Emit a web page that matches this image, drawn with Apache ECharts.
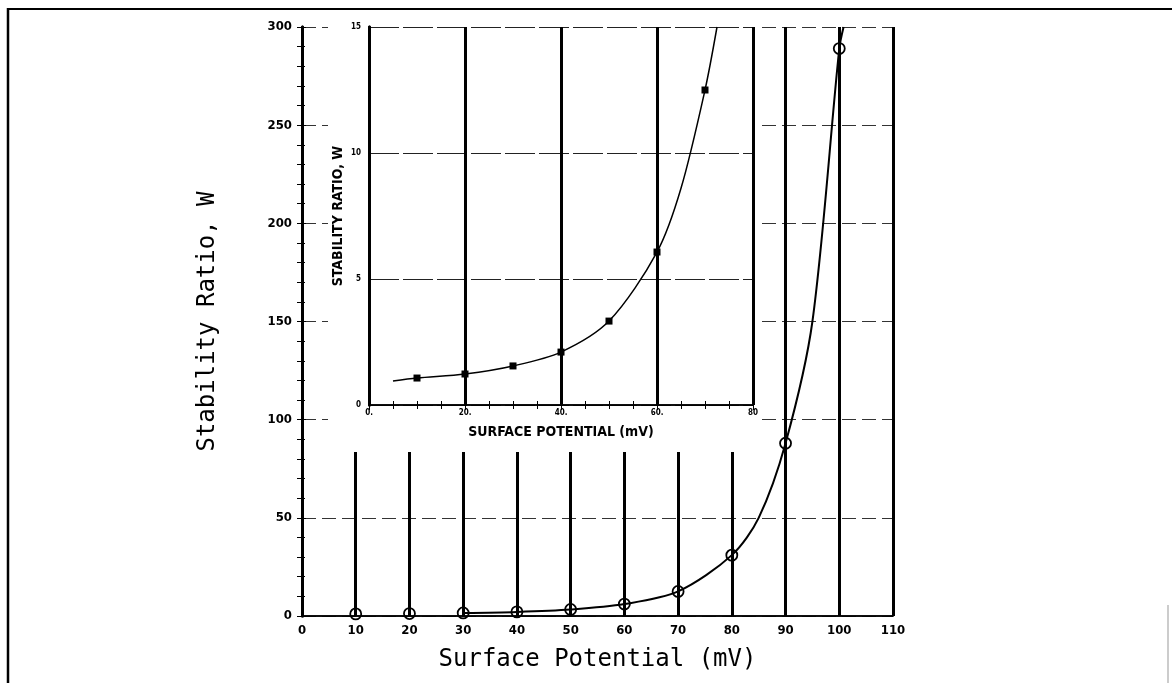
<!DOCTYPE html>
<html>
<head>
<meta charset="utf-8">
<script src="https://cdn.jsdelivr.net/npm/echarts@6/dist/echarts.min.js"></script>
<style>
  html, body { margin: 0; padding: 0; background: #fff; }
  #chart { width: 1172px; height: 683px; }
</style>
</head>
<body>
<div id="chart"></div>
<script>
// main plot: stability ratio vs surface potential
const mainPotential = [10, 20, 30, 40, 50, 60, 70, 80, 90, 100];
const mainStability = [1.07, 1.23, 1.55, 2.1, 3.33, 6.07, 12.5, 31, 88, 289];
const mainXLabels = ['0', '10', '20', '30', '40', '50', '60', '70', '80', '90', '100', '110'];
const mainYLabels = ['0', '50', '100', '150', '200', '250', '300'];

// inset: zoom on the low part
const insetPotential = [10, 20, 30, 40, 50, 60, 70];
const insetStability = [1.07, 1.23, 1.55, 2.1, 3.33, 6.07, 12.5];
const insetXLabels = ['0.', '20.', '40.', '60.', '80'];
const insetYLabels = ['0', '5', '10', '15'];

// fitted curves (incl. where they cross grid lines / leave the frame)
const mainCurvePotential = [30, 40, 50, 60, 70, 80, 85, 90, 95, 100, 100.8];
const mainCurveStability = [1.55, 2.1, 3.33, 6.07, 12.5, 31, 50, 88, 150, 289, 300];
const insetCurvePotential = [5, 10, 20, 30, 40, 50, 60, 65, 70, 72.5];
const insetCurveStability = [0.95, 1.07, 1.23, 1.55, 2.1, 3.33, 6.07, 8.6, 12.5, 15];

const pairs = (xs, ys) => xs.map((x, i) => [x, ys[i]]);

const tickFont = "'Liberation Sans Narrow', 'DejaVu Sans Condensed', sans-serif";
const titleFont = "'DejaVu Sans Mono', monospace";

const chart = echarts.init(document.getElementById('chart'));

const option = {
  backgroundColor: '#fff',
  animation: false,
  grid: [
    { left: 302, right: 279, top: 27, bottom: 67 },
    { left: 369, right: 419, top: 27, bottom: 278 }
  ],
  xAxis: [
    {
      gridIndex: 0, type: 'value', min: 0, max: 110, interval: 10,
      axisLine: { lineStyle: { color: '#000', width: 1.5 } },
      axisTick: { show: false },
      axisLabel: {
        color: '#000', fontWeight: 'bold', fontSize: 13, fontFamily: tickFont, margin: 8,
        formatter: v => mainXLabels[Math.round(v / 10)]
      },
      splitLine: { show: true, lineStyle: { color: '#000', width: 3 } },
      name: 'Surface Potential (mV)', nameLocation: 'middle', nameGap: 32,
      nameTextStyle: { color: '#000', fontSize: 24, fontFamily: titleFont }
    },
    {
      gridIndex: 0, type: 'value', position: 'top', min: 0, max: 110,
      axisLine: { lineStyle: { color: '#000', width: 1.5 } },
      axisTick: { show: false }, axisLabel: { show: false }, splitLine: { show: false }
    },
    {
      gridIndex: 1, type: 'value', min: 0, max: 80, interval: 20, z: 3,
      axisLine: { lineStyle: { color: '#000', width: 1.5 } },
      axisTick: { inside: true, length: 5, lineStyle: { color: '#000' } },
      minorTick: { show: true, splitNumber: 4, length: 4, lineStyle: { color: '#000' } },
      axisLabel: {
        color: '#000', fontWeight: 'bold', fontSize: 8, fontFamily: tickFont, margin: 4,
        formatter: v => insetXLabels[Math.round(v / 20)]
      },
      splitLine: { show: true, lineStyle: { color: '#000', width: 3 } },
      name: 'SURFACE POTENTIAL (mV)', nameLocation: 'middle', nameGap: 20,
      nameTextStyle: { color: '#000', fontSize: 14, fontWeight: 'bold', fontFamily: tickFont }
    },
    {
      gridIndex: 1, type: 'value', position: 'top', min: 0, max: 80, interval: 20, z: 3,
      axisLine: { lineStyle: { color: '#000', width: 1.5 } },
      axisTick: { inside: true, length: 5, lineStyle: { color: '#000' } },
      minorTick: { show: true, splitNumber: 4, length: 4, lineStyle: { color: '#000' } },
      axisLabel: { show: false }, splitLine: { show: false }
    }
  ],
  yAxis: [
    {
      gridIndex: 0, type: 'value', min: 0, max: 300, interval: 50,
      axisLine: { show: true, lineStyle: { color: '#000', width: 3 } },
      axisTick: { show: true, inside: true, length: 4, lineStyle: { color: '#000' } },
      minorTick: { show: true, splitNumber: 5, length: 3, lineStyle: { color: '#000' } },
      axisLabel: {
        color: '#000', fontWeight: 'bold', fontSize: 13, fontFamily: tickFont, margin: 10,
        formatter: v => mainYLabels[Math.round(v / 50)]
      },
      splitLine: { show: true, lineStyle: { color: '#333', width: 1, type: [14, 6] } },
      name: 'Stability Ratio, W', nameLocation: 'middle', nameGap: 82,
      nameTextStyle: { color: '#000', fontSize: 24, fontFamily: titleFont }
    },
    {
      gridIndex: 0, type: 'value', position: 'right', min: 0, max: 300, interval: 10,
      axisLine: { show: true, lineStyle: { color: '#000', width: 3 } },
      axisTick: { show: true, inside: true, length: 5, lineStyle: { color: '#000' } },
      axisLabel: { show: false }, splitLine: { show: false }
    },
    {
      gridIndex: 1, type: 'value', min: 0, max: 15, interval: 5, z: 3,
      axisLine: { show: true, lineStyle: { color: '#000', width: 3 } },
      axisTick: { show: false },
      axisLabel: {
        color: '#000', fontWeight: 'bold', fontSize: 8, fontFamily: tickFont, margin: 8,
        formatter: v => insetYLabels[Math.round(v / 5)]
      },
      splitLine: { show: true, lineStyle: { color: '#222', width: 1, type: [30, 4] } },
      name: 'STABILITY RATIO, W', nameLocation: 'middle', nameGap: 24,
      nameTextStyle: { color: '#000', fontSize: 14, fontWeight: 'bold', fontFamily: tickFont }
    },
    {
      gridIndex: 1, type: 'value', position: 'right', min: 0, max: 15, z: 3,
      axisLine: { show: true, lineStyle: { color: '#000', width: 3 } },
      axisTick: { show: false }, axisLabel: { show: false }, splitLine: { show: false }
    }
  ],
  series: [
    {
      name: 'main curve', type: 'line', xAxisIndex: 0, yAxisIndex: 0,
      data: pairs(mainCurvePotential, mainCurveStability),
      smooth: 0.3, showSymbol: false, symbol: 'none',
      lineStyle: { color: '#000', width: 2 }
    },
    {
      name: 'main points', type: 'scatter', xAxisIndex: 0, yAxisIndex: 0, z: 3,
      data: pairs(mainPotential, mainStability),
      symbol: 'circle', symbolSize: 11,
      itemStyle: { color: 'rgba(0,0,0,0)', borderColor: '#000', borderWidth: 1.8, opacity: 1 }
    },
    {
      name: 'inset curve', type: 'line', xAxisIndex: 2, yAxisIndex: 2, z: 4,
      data: pairs(insetCurvePotential, insetCurveStability),
      smooth: 0.3, showSymbol: false, symbol: 'none',
      lineStyle: { color: '#000', width: 1.5 }
    },
    {
      name: 'inset points', type: 'scatter', xAxisIndex: 2, yAxisIndex: 2, z: 5,
      data: pairs(insetPotential, insetStability),
      symbol: 'rect', symbolSize: 7,
      itemStyle: { color: '#000', opacity: 1 }
    }
  ],
  graphic: [
    // white box behind the inset hides the main grid there
    { type: 'rect', z: 1, shape: { x: 328, y: 18, width: 432, height: 434 }, style: { fill: '#fff' } },
    // scanned page frame
    { type: 'line', z: 1, shape: { x1: 8, y1: 9, x2: 1172, y2: 9 }, style: { stroke: '#000', lineWidth: 2 } },
    { type: 'line', z: 1, shape: { x1: 8, y1: 8, x2: 8, y2: 683 }, style: { stroke: '#000', lineWidth: 2.5 } },
    { type: 'line', z: 1, shape: { x1: 1168, y1: 605, x2: 1168, y2: 683 }, style: { stroke: '#999', lineWidth: 1 } }
  ]
};

chart.setOption(option);
</script>
</body>
</html>
